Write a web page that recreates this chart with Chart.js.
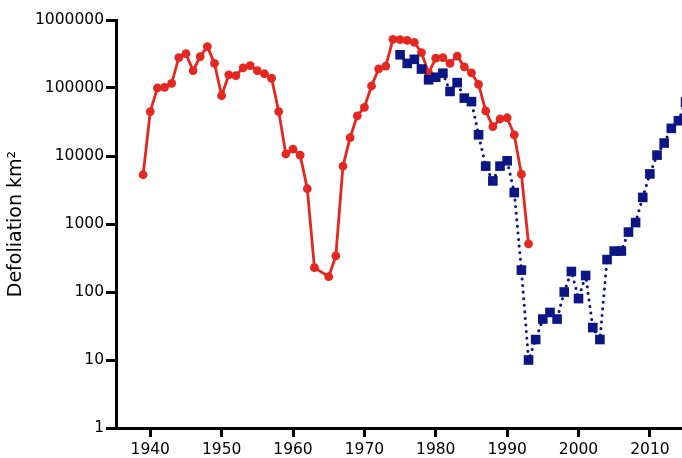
<!DOCTYPE html>
<html>
<head>
<meta charset="utf-8">
<script src="https://cdn.jsdelivr.net/npm/chart.js@4/dist/chart.umd.min.js"></script>
<style>
  html, body { margin: 0; padding: 0; background: #fff; overflow: hidden; }
  #wrap { width: 682px; height: 458px; }
</style>
</head>
<body>
<div id="wrap"><canvas id="myChart" width="682" height="458"></canvas></div>
<script>
// red series: years and defoliation (km2), 1964 missing
const redYears = [1939, 1940, 1941, 1942, 1943, 1944, 1945, 1946, 1947, 1948,
    1949, 1950, 1951, 1952, 1953, 1954, 1955, 1956, 1957, 1958,
    1959, 1960, 1961, 1962, 1963, 1965, 1966, 1967, 1968, 1969,
    1970, 1971, 1972, 1973, 1974, 1975, 1976, 1977, 1978, 1979,
    1980, 1981, 1982, 1983, 1984, 1985, 1986, 1987, 1988, 1989,
    1990, 1991, 1992, 1993];
const redValues = [5300, 45000, 100000, 102000, 117000, 280000, 320000, 180000, 290000, 405000,
    230000, 77000, 156000, 152000, 198000, 213000, 180000, 162000, 139000, 45000,
    10700, 12600, 10300, 3300, 228, 168, 340, 7100, 18600, 39000,
    52000, 107000, 191000, 210000, 520000, 515000, 500000, 470000, 332000, 166000,
    275000, 280000, 230000, 295000, 205000, 167000, 113000, 46000, 27000, 35000,
    36500, 20500, 5400, 510];

// blue series
const blueYears = [1975, 1976, 1977, 1978, 1979, 1980, 1981, 1982, 1983, 1984,
    1985, 1986, 1987, 1988, 1989, 1990, 1991, 1992, 1993, 1994,
    1995, 1996, 1997, 1998, 1999, 2000, 2001, 2002, 2003, 2004,
    2005, 2006, 2007, 2008, 2009, 2010, 2011, 2012, 2013, 2014, 2015];
const blueValues = [308000, 230000, 264000, 190000, 132000, 144000, 165000, 89000, 120000, 71000,
    63000, 20500, 7100, 4300, 7100, 8500, 2900, 210, 10, 20,
    40, 50, 40, 100, 200, 80, 175, 30, 20, 300,
    400, 400, 760, 1050, 2460, 5450, 10300, 15500, 25500, 33000, 62000];

const xTickLabels = [1940, 1950, 1960, 1970, 1980, 1990, 2000, 2010];
const yTickLabels = [1, 10, 100, 1000, 10000, 100000, 1000000];

const red = 'rgb(229, 39, 33)';
const blue = 'rgb(12, 22, 132)';
const font = "'DejaVu Sans', sans-serif";

const ctx = document.getElementById('myChart').getContext('2d');
const myChart = new Chart(ctx, {
    type: 'line',
    data: {
        datasets: [{
            data: redYears.map((y, i) => ({x: y, y: redValues[i]})),
            borderColor: red,
            backgroundColor: red,
            borderWidth: 2.8,
            pointRadius: 4.4,
            pointBorderWidth: 0,
            pointBackgroundColor: red,
            tension: 0,
            fill: false,
            order: 2
        }, {
            data: blueYears.map((y, i) => ({x: y, y: blueValues[i]})),
            borderColor: blue,
            backgroundColor: blue,
            borderWidth: 3,
            borderDash: [0.1, 6.5],
            borderCapStyle: 'round',
            pointStyle: 'rect',
            pointRadius: 6.8,
            pointBorderWidth: 0,
            pointBackgroundColor: blue,
            tension: 0,
            fill: false,
            clip: false,
            order: 1
        }]
    },
    options: {
        responsive: false,
        animation: false,
        layout: { autoPadding: false, padding: { top: 20, right: 0, bottom: 0, left: 0 } },
        plugins: { legend: { display: false }, tooltip: { enabled: false } },
        scales: {
            x: {
                type: 'linear',
                min: 1935.2,
                max: 2014.5,
                afterBuildTicks: scale => { scale.ticks = xTickLabels.map(v => ({value: v})); },
                afterFit: scale => {
                    scale.height = 30;
                    scale.paddingLeft = 0;
                    scale.paddingRight = 0;
                },
                border: { color: '#000', width: 3 },
                grid: { drawOnChartArea: false, color: '#000', lineWidth: 3, tickLength: 9 },
                ticks: {
                    color: '#000',
                    font: { family: font, size: 15.5 },
                    padding: 4,
                    maxRotation: 0,
                    callback: v => String(v)
                }
            },
            y: {
                type: 'logarithmic',
                min: 1,
                max: 1000000,
                afterBuildTicks: scale => { scale.ticks = yTickLabels.map(v => ({value: v})); },
                afterFit: scale => { scale.width = 116; },
                border: { color: '#000', width: 3 },
                grid: { drawOnChartArea: false, color: '#000', lineWidth: 3, tickLength: 10 },
                title: {
                    display: true,
                    text: 'Defoliation km²',
                    color: '#000',
                    font: { family: font, size: 19 },
                    padding: { top: 5, bottom: 0 }
                },
                ticks: {
                    color: '#000',
                    font: { family: font, size: 15.5 },
                    padding: 2,
                    callback: v => String(v)
                }
            }
        }
    }
});
</script>
</body>
</html>
